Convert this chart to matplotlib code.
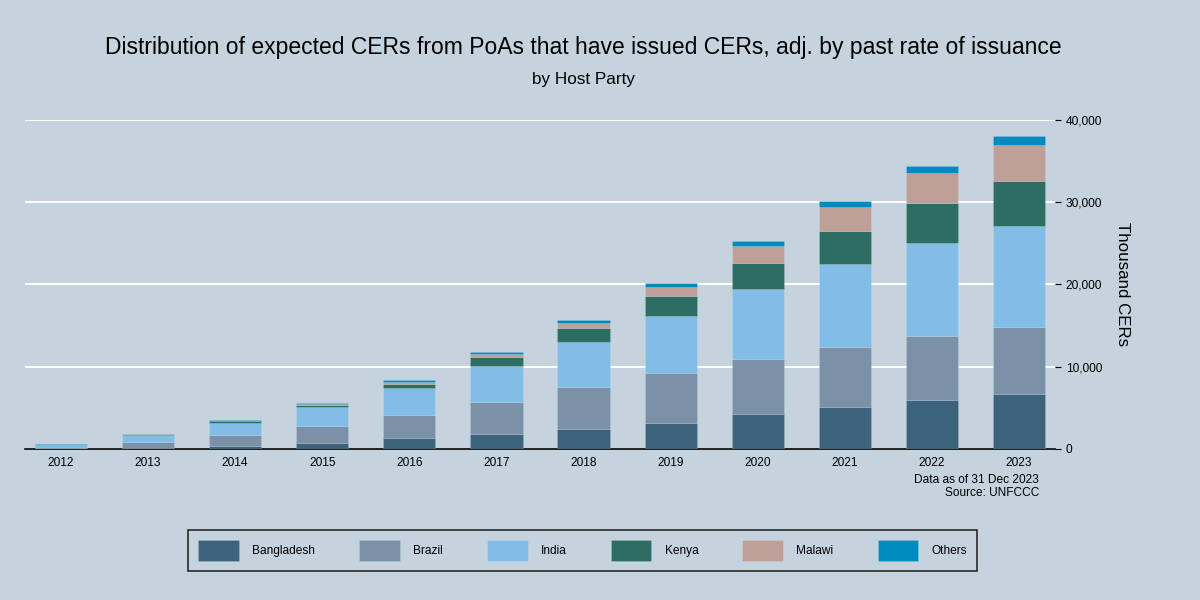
import matplotlib

matplotlib.use("Agg")

import matplotlib.pyplot as plt
import numpy as np
from matplotlib.ticker import FuncFormatter

plt.rcParams["font.family"] = ["Liberation Sans", "DejaVu Sans"]

BG = "#c5d3df"
SMALL = 8.6

years = ["2012", "2013", "2014", "2015", "2016", "2017",
         "2018", "2019", "2020", "2021", "2022", "2023"]
parties = ["Bangladesh", "Brazil", "India", "Kenya", "Malawi", "Others"]
colors = ["#3d627c", "#7b91a8", "#82bde8", "#2e6d63", "#bfa098", "#008bbf"]

# thousand CERs
bangladesh = [0.05, 0.10, 0.35, 0.75, 1.30, 1.85, 2.45, 3.15, 4.25, 5.15, 5.90, 6.70]
brazil = [0.10, 0.75, 1.40, 2.10, 2.85, 3.90, 5.05, 6.10, 6.70, 7.25, 7.80, 8.15]
india = [0.35, 0.90, 1.40, 2.25, 3.25, 4.35, 5.55, 6.95, 8.45, 10.10, 11.35, 12.30]
kenya = [0.00, 0.02, 0.20, 0.30, 0.55, 1.10, 1.70, 2.40, 3.25, 4.05, 4.80, 5.45]
malawi = [0.00, 0.00, 0.03, 0.08, 0.20, 0.40, 0.60, 1.15, 2.05, 2.85, 3.65, 4.40]
others = [0.10, 0.08, 0.10, 0.12, 0.25, 0.25, 0.30, 0.45, 0.55, 0.75, 0.85, 1.00]

series = [bangladesh, brazil, india, kenya, malawi, others]

fig = plt.figure(figsize=(12, 6), dpi=100, facecolor=BG)
ax = fig.add_axes([0.021, 0.2517, 0.858, 0.5483])
ax.set_facecolor(BG)

x = np.arange(len(years))
bottom = np.zeros(len(years))
handles = []
for name, vals, col in zip(parties, series, colors):
    v = np.array(vals) * 1000
    h = ax.bar(x, v, width=0.6, bottom=bottom, color=col, label=name,
               edgecolor=(1, 1, 1, 0.15), linewidth=0.6, zorder=3)
    handles.append(h)
    bottom += v

ax.set_xlim(-0.41, 11.41)
ax.set_ylim(0, 40000)
ax.set_xticks(x)
ax.set_xticklabels(years, fontsize=SMALL)
ax.set_yticks([0, 10000, 20000, 30000, 40000])
ax.yaxis.set_major_formatter(FuncFormatter(lambda v, p: f"{v:,.0f}"))
ax.yaxis.tick_right()
ax.yaxis.set_label_position("right")
ax.tick_params(axis="y", labelsize=SMALL, length=4, color="black", pad=4)
ax.tick_params(axis="x", length=0, pad=6)
ax.grid(axis="y", color="white", linewidth=1.5, zorder=0)
for side in ("top", "left", "right"):
    ax.spines[side].set_visible(False)
ax.spines["bottom"].set_color("black")
ax.spines["bottom"].set_linewidth(1.2)
ax.set_ylabel("Thousand CERs", fontsize=12.2, rotation=270, labelpad=20)

fig.text(0.486, 0.921, "Distribution of expected CERs from PoAs that have issued CERs, adj. by past rate of issuance",
         ha="center", va="center", fontsize=16.5)
fig.text(0.486, 0.868, "by Host Party", ha="center", va="center", fontsize=12.3)
fig.text(0.866, 0.189, "Data as of 31 Dec 2023\nSource: UNFCCC", ha="right", va="center",
         fontsize=SMALL, linespacing=1.1)

leg = fig.legend(handles, parties, loc="center", bbox_to_anchor=(0.4855, 0.0825), ncol=6,
                 fontsize=SMALL, frameon=True, fancybox=False, edgecolor="black",
                 facecolor=BG, handlelength=3.4, handleheight=2.3, handletextpad=1.1,
                 columnspacing=3.7, borderpad=0.85)
leg.get_frame().set_linewidth(1.2)

fig.savefig("out.png", dpi=100, facecolor=BG)
